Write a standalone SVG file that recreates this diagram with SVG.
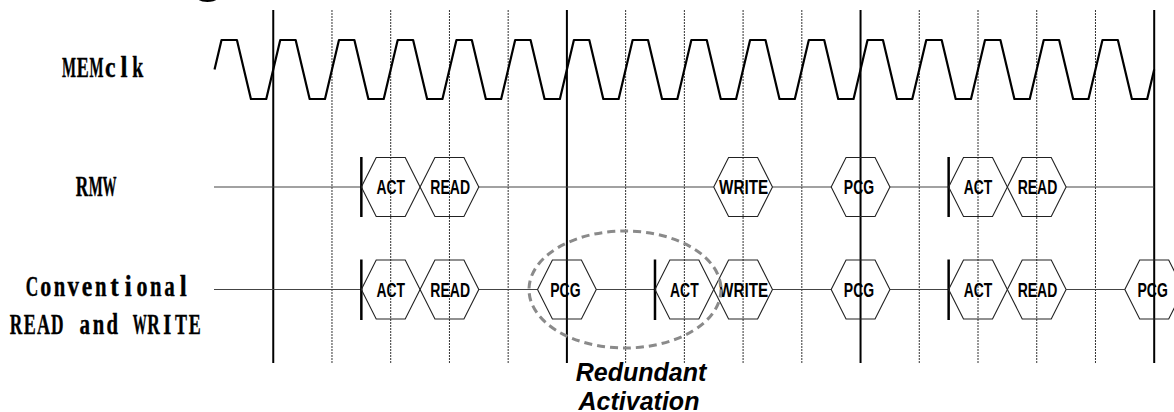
<svg xmlns="http://www.w3.org/2000/svg" xmlns:xlink="http://www.w3.org/1999/xlink" width="1174" height="412" viewBox="0 0 1174 412">
<style>
.grid-d{stroke:#333;stroke-width:1;stroke-dasharray:2 1;fill:none}
.grid-s{stroke:#000;stroke-width:2;fill:none}
.sig{stroke:#444;stroke-width:1.2;fill:none}
.bar{stroke:#000;stroke-width:2.5;fill:none}
.hex{fill:none;stroke:#222;stroke-width:1.1}
.clk{fill:none;stroke:#000;stroke-width:2.2;stroke-linejoin:round}
.ht{font-family:"Liberation Sans",Arial,sans-serif;font-weight:bold;font-size:20px;fill:#000;text-anchor:middle}
.lab{font-family:"Liberation Serif","Times New Roman",serif;font-weight:bold;font-size:30px;fill:#000;stroke:#000;stroke-width:0.4}
.note{font-family:"Liberation Sans",Arial,sans-serif;font-weight:bold;font-style:italic;font-size:25px;fill:#000;text-anchor:middle}
.ell{fill:none;stroke:#8a8a8a;stroke-width:3;stroke-dasharray:8 5}
</style>
<defs>
<polygon id="hex" points="-29.37,0 -14.5,-29.5 14.5,-29.5 29.37,0 14.5,29.5 -14.5,29.5"/>
</defs>
<rect width="1174" height="412" fill="#fff"/>
<text x="208" y="-10.5" style="font-family:'Liberation Sans',Arial,sans-serif;font-weight:bold;font-size:56px;text-anchor:middle">g</text>

<g id="grid">
<line class="grid-s" x1="273.25" y1="10" x2="273.25" y2="363"/>
<line class="grid-d" x1="331.98" y1="10" x2="331.98" y2="363"/>
<line class="grid-d" x1="390.71" y1="10" x2="390.71" y2="363"/>
<line class="grid-d" x1="449.44" y1="10" x2="449.44" y2="363"/>
<line class="grid-d" x1="508.17" y1="10" x2="508.17" y2="363"/>
<line class="grid-s" x1="566.9" y1="10" x2="566.9" y2="363"/>
<line class="grid-d" x1="625.63" y1="10" x2="625.63" y2="363"/>
<line class="grid-d" x1="684.36" y1="10" x2="684.36" y2="363"/>
<line class="grid-d" x1="743.09" y1="10" x2="743.09" y2="363"/>
<line class="grid-d" x1="801.82" y1="10" x2="801.82" y2="363"/>
<line class="grid-s" x1="860.55" y1="10" x2="860.55" y2="363"/>
<line class="grid-d" x1="919.28" y1="10" x2="919.28" y2="363"/>
<line class="grid-d" x1="978.01" y1="10" x2="978.01" y2="363"/>
<line class="grid-d" x1="1036.74" y1="10" x2="1036.74" y2="363"/>
<line class="grid-d" x1="1095.47" y1="10" x2="1095.47" y2="363"/>
<line class="grid-s" x1="1154.2" y1="10" x2="1154.2" y2="363"/>
</g>

<g id="clock">
<path class="clk" d="M214.52,69.5 l7,-29.5 h15.4 l14,59 h15.33 l7,-29.5 l7,-29.5 h15.4 l14,59 h15.33 l7,-29.5 l7,-29.5 h15.4 l14,59 h15.33 l7,-29.5 l7,-29.5 h15.4 l14,59 h15.33 l7,-29.5 l7,-29.5 h15.4 l14,59 h15.33 l7,-29.5 l7,-29.5 h15.4 l14,59 h15.33 l7,-29.5 l7,-29.5 h15.4 l14,59 h15.33 l7,-29.5 l7,-29.5 h15.4 l14,59 h15.33 l7,-29.5 l7,-29.5 h15.4 l14,59 h15.33 l7,-29.5 l7,-29.5 h15.4 l14,59 h15.33 l7,-29.5 l7,-29.5 h15.4 l14,59 h15.33 l7,-29.5 l7,-29.5 h15.4 l14,59 h15.33 l7,-29.5 l7,-29.5 h15.4 l14,59 h15.33 l7,-29.5 l7,-29.5 h15.4 l14,59 h15.33 l7,-29.5 l7,-29.5 h15.4 l14,59 h15.33 l7,-29.5 l7,-29.5 h15.4 l14,59 h15.33 l7,-29.5"/>
</g>

<g id="labels">
<text class="lab" y="77"><tspan x="61.88" textLength="14" lengthAdjust="spacingAndGlyphs">M</tspan><tspan x="76.63" textLength="12" lengthAdjust="spacingAndGlyphs">E</tspan><tspan x="89.38" textLength="14" lengthAdjust="spacingAndGlyphs">M</tspan><tspan x="104.88" textLength="10.5" lengthAdjust="spacingAndGlyphs">c</tspan><tspan x="120.38" textLength="7" lengthAdjust="spacingAndGlyphs">l</tspan><tspan x="132.13" textLength="11" lengthAdjust="spacingAndGlyphs">k</tspan></text>
<text class="lab" y="196"><tspan x="75.63" textLength="12.5" lengthAdjust="spacingAndGlyphs">R</tspan><tspan x="88.63" textLength="14" lengthAdjust="spacingAndGlyphs">M</tspan><tspan x="102.38" textLength="14" lengthAdjust="spacingAndGlyphs">W</tspan></text>
<text class="lab" y="296"><tspan x="25.63" textLength="12.5" lengthAdjust="spacingAndGlyphs">C</tspan><tspan x="40.13" textLength="11" lengthAdjust="spacingAndGlyphs">o</tspan><tspan x="53.63" textLength="11.5" lengthAdjust="spacingAndGlyphs">n</tspan><tspan x="67.38" textLength="11.5" lengthAdjust="spacingAndGlyphs">v</tspan><tspan x="81.63" textLength="10.5" lengthAdjust="spacingAndGlyphs">e</tspan><tspan x="94.88" textLength="11.5" lengthAdjust="spacingAndGlyphs">n</tspan><tspan x="110.13" textLength="8.5" lengthAdjust="spacingAndGlyphs">t</tspan><tspan x="124.63" textLength="7" lengthAdjust="spacingAndGlyphs">i</tspan><tspan x="136.38" textLength="11" lengthAdjust="spacingAndGlyphs">o</tspan><tspan x="149.88" textLength="11.5" lengthAdjust="spacingAndGlyphs">n</tspan><tspan x="164.13" textLength="10.5" lengthAdjust="spacingAndGlyphs">a</tspan><tspan x="179.63" textLength="7" lengthAdjust="spacingAndGlyphs">l</tspan></text>
<text class="lab" y="334"><tspan x="9.63" textLength="12.5" lengthAdjust="spacingAndGlyphs">R</tspan><tspan x="23.63" textLength="12" lengthAdjust="spacingAndGlyphs">E</tspan><tspan x="36.88" textLength="13" lengthAdjust="spacingAndGlyphs">A</tspan><tspan x="50.88" textLength="12.5" lengthAdjust="spacingAndGlyphs">D</tspan> <tspan x="79.38" textLength="10.5" lengthAdjust="spacingAndGlyphs">a</tspan><tspan x="92.63" textLength="11.5" lengthAdjust="spacingAndGlyphs">n</tspan><tspan x="106.38" textLength="11.5" lengthAdjust="spacingAndGlyphs">d</tspan> <tspan x="132.63" textLength="14" lengthAdjust="spacingAndGlyphs">W</tspan><tspan x="147.13" textLength="12.5" lengthAdjust="spacingAndGlyphs">R</tspan><tspan x="163.13" textLength="8" lengthAdjust="spacingAndGlyphs">I</tspan><tspan x="174.88" textLength="12" lengthAdjust="spacingAndGlyphs">T</tspan><tspan x="188.63" textLength="12" lengthAdjust="spacingAndGlyphs">E</tspan></text>
</g>

<g id="connectors">
<line class="sig" x1="214" y1="187" x2="361.34" y2="187"/>
<line class="sig" x1="478.81" y1="187" x2="713.72" y2="187"/>
<line class="sig" x1="772.46" y1="187" x2="831.18" y2="187"/>
<line class="sig" x1="889.92" y1="187" x2="948.64" y2="187"/>
<line class="sig" x1="1066.11" y1="187" x2="1154.2" y2="187"/>
<line class="bar" x1="361.34" y1="157" x2="361.34" y2="217"/>
<line class="bar" x1="948.64" y1="157" x2="948.64" y2="217"/>

<line class="sig" x1="214" y1="289.5" x2="361.34" y2="289.5"/>
<line class="sig" x1="478.81" y1="289.5" x2="537.53" y2="289.5"/>
<line class="sig" x1="596.27" y1="289.5" x2="654.99" y2="289.5"/>
<line class="sig" x1="772.46" y1="289.5" x2="831.18" y2="289.5"/>
<line class="sig" x1="889.92" y1="289.5" x2="948.64" y2="289.5"/>
<line class="sig" x1="1066.11" y1="289.5" x2="1124.83" y2="289.5"/>
<line class="bar" x1="361.34" y1="259.5" x2="361.34" y2="320"/>
<line class="bar" x1="654.99" y1="259.5" x2="654.99" y2="320"/>
<line class="bar" x1="948.64" y1="259.5" x2="948.64" y2="320"/>
</g>

<g id="rmw-act1"><use href="#hex" class="hex" x="390.71" y="187"/><text class="ht" x="390.71" y="194" textLength="28.6" lengthAdjust="spacingAndGlyphs">ACT</text></g>
<g id="rmw-read1"><use href="#hex" class="hex" x="449.44" y="187"/><text class="ht" x="450.2" y="194" textLength="39.7" lengthAdjust="spacingAndGlyphs">READ</text></g>
<g id="rmw-write"><use href="#hex" class="hex" x="743.09" y="187"/><text class="ht" x="743.6" y="194" textLength="49" lengthAdjust="spacingAndGlyphs">WRITE</text></g>
<g id="rmw-pcg"><use href="#hex" class="hex" x="860.55" y="187"/><text class="ht" x="859" y="194" textLength="30.3" lengthAdjust="spacingAndGlyphs">PCG</text></g>
<g id="rmw-act2"><use href="#hex" class="hex" x="978.01" y="187"/><text class="ht" x="978.01" y="194" textLength="28.6" lengthAdjust="spacingAndGlyphs">ACT</text></g>
<g id="rmw-read2"><use href="#hex" class="hex" x="1036.74" y="187"/><text class="ht" x="1037.5" y="194" textLength="39.7" lengthAdjust="spacingAndGlyphs">READ</text></g>

<g id="conv-act1"><use href="#hex" class="hex" x="390.71" y="289.5"/><text class="ht" x="390.71" y="296.5" textLength="28.6" lengthAdjust="spacingAndGlyphs">ACT</text></g>
<g id="conv-read1"><use href="#hex" class="hex" x="449.44" y="289.5"/><text class="ht" x="450.2" y="296.5" textLength="39.7" lengthAdjust="spacingAndGlyphs">READ</text></g>
<g id="conv-pcg1"><use href="#hex" class="hex" x="566.9" y="289.5"/><text class="ht" x="565.4" y="296.5" textLength="30.3" lengthAdjust="spacingAndGlyphs">PCG</text></g>
<g id="conv-act2"><use href="#hex" class="hex" x="684.36" y="289.5"/><text class="ht" x="684.36" y="296.5" textLength="28.6" lengthAdjust="spacingAndGlyphs">ACT</text></g>
<g id="conv-write"><use href="#hex" class="hex" x="743.09" y="289.5"/><text class="ht" x="743.6" y="296.5" textLength="49" lengthAdjust="spacingAndGlyphs">WRITE</text></g>
<g id="conv-pcg2"><use href="#hex" class="hex" x="860.55" y="289.5"/><text class="ht" x="859" y="296.5" textLength="30.3" lengthAdjust="spacingAndGlyphs">PCG</text></g>
<g id="conv-act3"><use href="#hex" class="hex" x="978.01" y="289.5"/><text class="ht" x="978.01" y="296.5" textLength="28.6" lengthAdjust="spacingAndGlyphs">ACT</text></g>
<g id="conv-read2"><use href="#hex" class="hex" x="1036.74" y="289.5"/><text class="ht" x="1037.5" y="296.5" textLength="39.7" lengthAdjust="spacingAndGlyphs">READ</text></g>
<g id="conv-pcg3"><use href="#hex" class="hex" x="1154.2" y="289.5"/><text class="ht" x="1152.7" y="296.5" textLength="30.3" lengthAdjust="spacingAndGlyphs">PCG</text></g>

<g id="redundant-activation">
<ellipse class="ell" cx="625" cy="289.5" rx="96" ry="58.5"/>
<text class="note" x="641" y="381">Redundant</text>
<text class="note" x="639" y="409.5">Activation</text>
</g>
</svg>
